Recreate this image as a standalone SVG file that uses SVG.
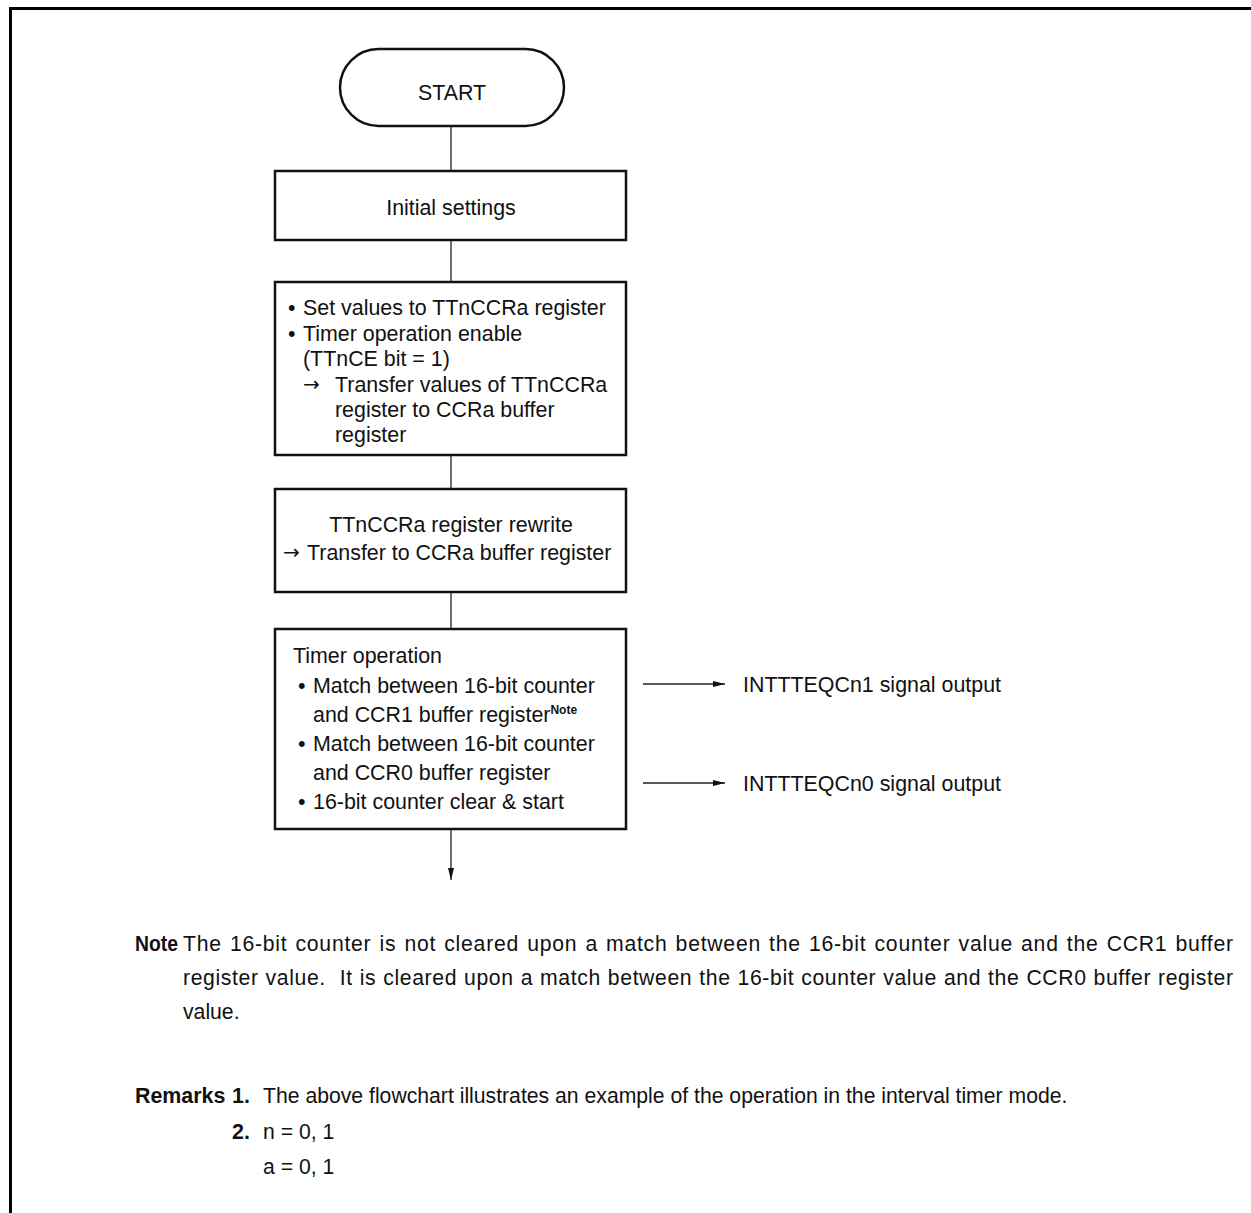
<svg xmlns="http://www.w3.org/2000/svg" width="1251" height="1213" viewBox="0 0 1251 1213">
<defs>
<style>
text{font-family:"Liberation Sans",Arial,Helvetica,sans-serif;font-size:21.4px;fill:#111}
.box{fill:#fff;stroke:#111;stroke-width:2.5}
.conn{stroke:#222;stroke-width:1.3;fill:none}
.b{font-weight:bold}
.sup{font-size:12px;font-weight:bold}
.mid{text-anchor:middle}
.arr{font-family:"DejaVu Sans",sans-serif;font-size:20px}
.t{font-size:21.2px}
</style>
<marker id="ah" markerWidth="13" markerHeight="8" refX="12" refY="4" orient="auto" markerUnits="userSpaceOnUse">
<path d="M0,1 L12,4 L0,7 Z" fill="#111"/>
</marker>
</defs>
<rect width="1251" height="1213" fill="#fff"/>
<path d="M10.5,1213 V8.5 H1251" fill="none" stroke="#000" stroke-width="3"/>

<g id="connectors">
<line class="conn" x1="451" y1="126" x2="451" y2="171"/>
<line class="conn" x1="451" y1="240" x2="451" y2="282"/>
<line class="conn" x1="451" y1="455" x2="451" y2="489"/>
<line class="conn" x1="451" y1="592" x2="451" y2="629"/>
<line class="conn" x1="451" y1="829" x2="451" y2="880" marker-end="url(#ah)"/>
<line class="conn" x1="643" y1="684" x2="725" y2="684" marker-end="url(#ah)"/>
<line class="conn" x1="643" y1="783" x2="725" y2="783" marker-end="url(#ah)"/>
</g>

<g id="start">
<rect class="box" x="340" y="49" width="224" height="77" rx="38.5" stroke-width="2"/>
<text class="mid" x="452" y="100">START</text>
</g>

<g id="initial">
<rect class="box" x="275" y="171" width="351" height="69"/>
<text class="mid" x="451" y="215">Initial settings</text>
</g>

<g id="setvalues">
<rect class="box" x="275" y="282" width="351" height="173"/>
<text x="288" y="315">•</text><text x="303" y="315">Set values to TTnCCRa register</text>
<text x="288" y="341">•</text><text x="303" y="341">Timer operation enable</text>
<text x="303" y="366">(TTnCE bit = 1)</text>
<text class="arr" x="303" y="391">→</text><text x="335" y="392">Transfer values of TTnCCRa</text>
<text x="335" y="417">register to CCRa buffer</text>
<text x="335" y="442">register</text>
</g>

<g id="rewrite">
<rect class="box" x="275" y="489" width="351" height="103"/>
<text class="mid" x="451" y="532">TTnCCRa register rewrite</text>
<text class="arr" x="283" y="559">→</text><text x="307" y="560">Transfer to CCRa buffer register</text>
</g>

<g id="timerop">
<rect class="box" x="275" y="629" width="351" height="200"/>
<text x="293" y="663">Timer operation</text>
<text x="298" y="693">•</text><text x="313" y="693">Match between 16-bit counter</text>
<text x="313" y="722">and CCR1 buffer register<tspan class="sup" dy="-8">Note</tspan></text>
<text x="298" y="751">•</text><text x="313" y="751">Match between 16-bit counter</text>
<text x="313" y="780">and CCR0 buffer register</text>
<text x="298" y="809">•</text><text x="313" y="809">16-bit counter clear &amp; start</text>
</g>

<g id="out1">
<text x="743" y="691.5">INTTTEQCn1 signal output</text>
</g>
<g id="out0">
<text x="743" y="790.5">INTTTEQCn0 signal output</text>
</g>

<g id="note">
<text class="b" x="135" y="950.5" textLength="43" lengthAdjust="spacingAndGlyphs">Note</text>
<text class="t" x="183" y="950.5" word-spacing="1.5" textLength="1050" lengthAdjust="spacing">The 16-bit counter is not cleared upon a match between the 16-bit counter value and the CCR1 buffer</text>
<text class="t" x="183" y="984.5" word-spacing="0.5" textLength="1050" lengthAdjust="spacing">register value.&#160; It is cleared upon a match between the 16-bit counter value and the CCR0 buffer register</text>
<text class="t" x="183" y="1018.5">value.</text>
</g>

<g id="remarks">
<text class="b" x="135" y="1102.5">Remarks</text>
<text class="b" x="232" y="1102.5">1.</text>
<text class="t" x="263" y="1102.5">The above flowchart illustrates an example of the operation in the interval timer mode.</text>
<text class="b" x="232" y="1138.5">2.</text>
<text class="t" x="263" y="1138.5">n = 0, 1</text>
<text class="t" x="263" y="1173.5">a = 0, 1</text>
</g>
</svg>
